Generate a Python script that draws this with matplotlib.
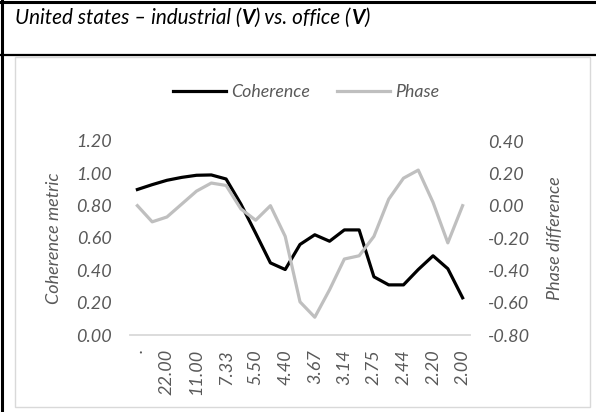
import matplotlib
matplotlib.use('Agg')
import matplotlib.pyplot as plt
from matplotlib.patches import Rectangle
from matplotlib.lines import Line2D

# periods (44/k), every other one shown on the axis
periods = ['.', '44.00', '22.00', '14.67', '11.00', '8.80', '7.33', '6.29', '5.50', '4.89',
           '4.40', '4.00', '3.67', '3.38', '3.14', '2.93', '2.75', '2.59', '2.44', '2.32',
           '2.20', '2.10', '2.00']
coherence = [0.90, 0.93, 0.957, 0.975, 0.988, 0.99, 0.965, 0.81, 0.63, 0.446, 0.405,
             0.56, 0.62, 0.58, 0.65, 0.65, 0.36, 0.31, 0.31, 0.405, 0.49, 0.41, 0.23]
phase = [0.00, -0.10, -0.07, 0.01, 0.09, 0.14, 0.125, -0.02, -0.09, 0.00, -0.19,
         -0.595, -0.69, -0.52, -0.33, -0.31, -0.19, 0.04, 0.17, 0.22, 0.02, -0.23, 0.00]
left_ticks = [0.0, 0.2, 0.4, 0.6, 0.8, 1.0, 1.2]
right_ticks = [-0.8, -0.6, -0.4, -0.2, 0.0, 0.2, 0.4]

W, H = 596, 412
plt.rcParams['font.family'] = ['Lato', 'DejaVu Sans']
grey_txt = '#595959'
fs = 13

fig = plt.figure(figsize=(W / 100, H / 100), dpi=100)

def fx(px):
    return px / W

def fy(py):
    return 1 - py / H

# frame lines of the surrounding table
fig.add_artist(Line2D([fx(1.5), fx(1.5)], [0, 1], color='black', lw=2.2))
fig.add_artist(Line2D([0, 1], [fy(1.5), fy(1.5)], color='black', lw=2.2))
fig.add_artist(Line2D([0, 1], [fy(55), fy(55)], color='black', lw=1.6))
# chart area box
fig.add_artist(Rectangle((fx(15), fy(407)), fx(590) - fx(15), fy(57) - fy(407),
                         transform=fig.transFigure, fill=False, ec='#D9D9D9', lw=1.0))

ax = fig.add_axes([fx(130), fy(335), fx(470) - fx(130), fy(141) - fy(335)])
x = list(range(len(periods)))
ax.plot(x, coherence, color='black', lw=2.3, label='Coherence', solid_joinstyle='round')
ax.set_xlim(-0.5, len(periods) - 0.5)
ax.set_ylim(0, 1.2)
ax.set_yticks(left_ticks)
ax.set_yticklabels(['%.2f' % v for v in left_ticks])
ax.set_xticks(x[::2])
ax.set_xticklabels(periods[::2], rotation=90)
for s in ['top', 'left', 'right']:
    ax.spines[s].set_visible(False)
ax.spines['bottom'].set_color('#D9D9D9')
ax.spines['bottom'].set_linewidth(1.3)
ax.tick_params(length=0, labelsize=fs, labelcolor=grey_txt)
ax.tick_params(axis='x', pad=10)
ax.tick_params(axis='y', pad=13)
for t in ax.get_xticklabels() + ax.get_yticklabels():
    t.set_style('italic')
ax.set_ylabel('Coherence metric', fontsize=fs, color=grey_txt, style='italic')
ax.yaxis.set_label_coords((62 - 130) / 340, 0.5)

ax2 = ax.twinx()
ax2.plot(x, phase, color='#BFBFBF', lw=2.3, label='Phase', solid_joinstyle='round')
ax2.set_ylim(-0.8, 0.4)
ax2.set_yticks(right_ticks)
ax2.set_yticklabels(['%.2f' % v for v in right_ticks])
for s in ['top', 'left', 'right', 'bottom']:
    ax2.spines[s].set_visible(False)
ax2.tick_params(length=0, labelsize=fs, labelcolor=grey_txt, pad=13)
for t in ax2.get_yticklabels():
    t.set_style('italic')
ax2.set_ylabel('Phase difference', fontsize=fs, color=grey_txt, style='italic',
               rotation=90)
ax2.yaxis.set_label_coords((547 - 130) / 340, 0.5)

h1, l1 = ax.get_legend_handles_labels()
h2, l2 = ax2.get_legend_handles_labels()
leg = fig.legend(h1 + h2, l1 + l2, loc='center', bbox_to_anchor=(fx(306), fy(92)),
                 ncol=2, frameon=False, handlelength=3.0, handletextpad=0.3,
                 columnspacing=1.5, prop={'size': 12.8, 'style': 'italic'})
for t in leg.get_texts():
    t.set_color(grey_txt)

# title with bold V parts
pieces = [('United states \u2013 industrial (', 'normal'), ('V', 'bold'),
          (') vs. office (', 'normal'), ('V', 'bold'), (')', 'normal')]
renderer = fig.canvas.get_renderer()
xpos = 15
for txt, wt in pieces:
    t = fig.text(fx(xpos), fy(18), txt, fontsize=14.9, style='italic', weight=wt,
                 color='black', va='center', ha='left')
    bb = t.get_window_extent(renderer)
    xpos = bb.x1

fig.savefig('out.png', dpi=100)
